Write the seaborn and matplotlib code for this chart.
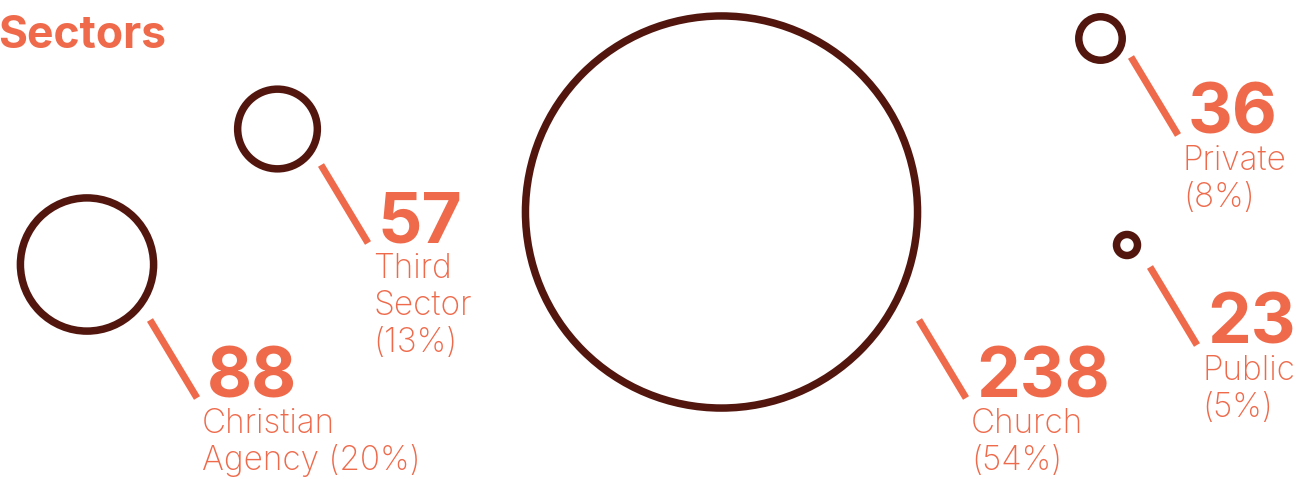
import matplotlib
matplotlib.use("Agg")
import matplotlib.pyplot as plt
import numpy as np
import pandas as pd
import seaborn as sns

# Sector counts and shares
sectors = ["Christian\nAgency (20%)", "Third\nSector\n(13%)", "Church\n(54%)", "Private\n(8%)", "Public\n(5%)"]
counts = [88, 57, 238, 36, 23]

ORANGE = "#EE6A4B"
BROWN = "#52160F"

sns.set_theme(style="white")
plt.rcParams["font.family"] = ["Inter", "DejaVu Sans"]

W, H, DPI = 1300, 479, 100
fig = plt.figure(figsize=(W / DPI, H / DPI), dpi=DPI)
ax = fig.add_axes([0, 0, 1, 1])

# bubble centres and leader-line starting points (pixel layout)
cx = [87, 277.5, 721.5, 1100.5, 1127]
cy = [264.5, 129, 212, 38.5, 245]
lead_x = [150, 321, 919, 1131, 1150]
lead_y = [320, 165, 320, 57, 267]
lead_dx, lead_dy = 47, 78

stroke_px = 7.5
px2pt = 72 / DPI

# radius scale: value -> outer radius in px
outer_r = 0.863 * np.array(counts) - 5.6
mid_r = np.maximum(outer_r - stroke_px / 2, 3)
sizes = (2 * mid_r * px2pt) ** 2

df = pd.DataFrame({"x": cx, "y": cy, "sector": sectors, "count": counts})
sns.scatterplot(data=df, x="x", y="y", s=sizes, color=BROWN, facecolor="none",
                edgecolor=BROWN, linewidth=stroke_px * px2pt, ax=ax, legend=False,
                zorder=3)

for i, (lab, n) in enumerate(zip(sectors, counts)):
    x0, y0 = lead_x[i], lead_y[i]
    x1, y1 = x0 + lead_dx, y0 + lead_dy
    ax.plot([x0, x1], [y0, y1], color=ORANGE, lw=7 * px2pt,
            solid_capstyle="butt", zorder=2)
    ax.text(x1 + 10, y1 - 1, f"{n}", color=ORANGE, fontsize=50,
            fontweight="bold", ha="left", va="baseline")
    for j, line in enumerate(lab.split("\n")):
        ax.text(x1 + 5, y1 + 35 + 37 * j, line, color=ORANGE, fontsize=24,
                fontweight="light", ha="left", va="baseline")

ax.text(-2, 48, "Sectors", color=ORANGE, fontsize=32, fontweight="bold",
        ha="left", va="baseline")

ax.set_xlim(0, W)
ax.set_ylim(H, 0)
ax.axis("off")
fig.savefig("out.png", dpi=DPI, facecolor="white")
